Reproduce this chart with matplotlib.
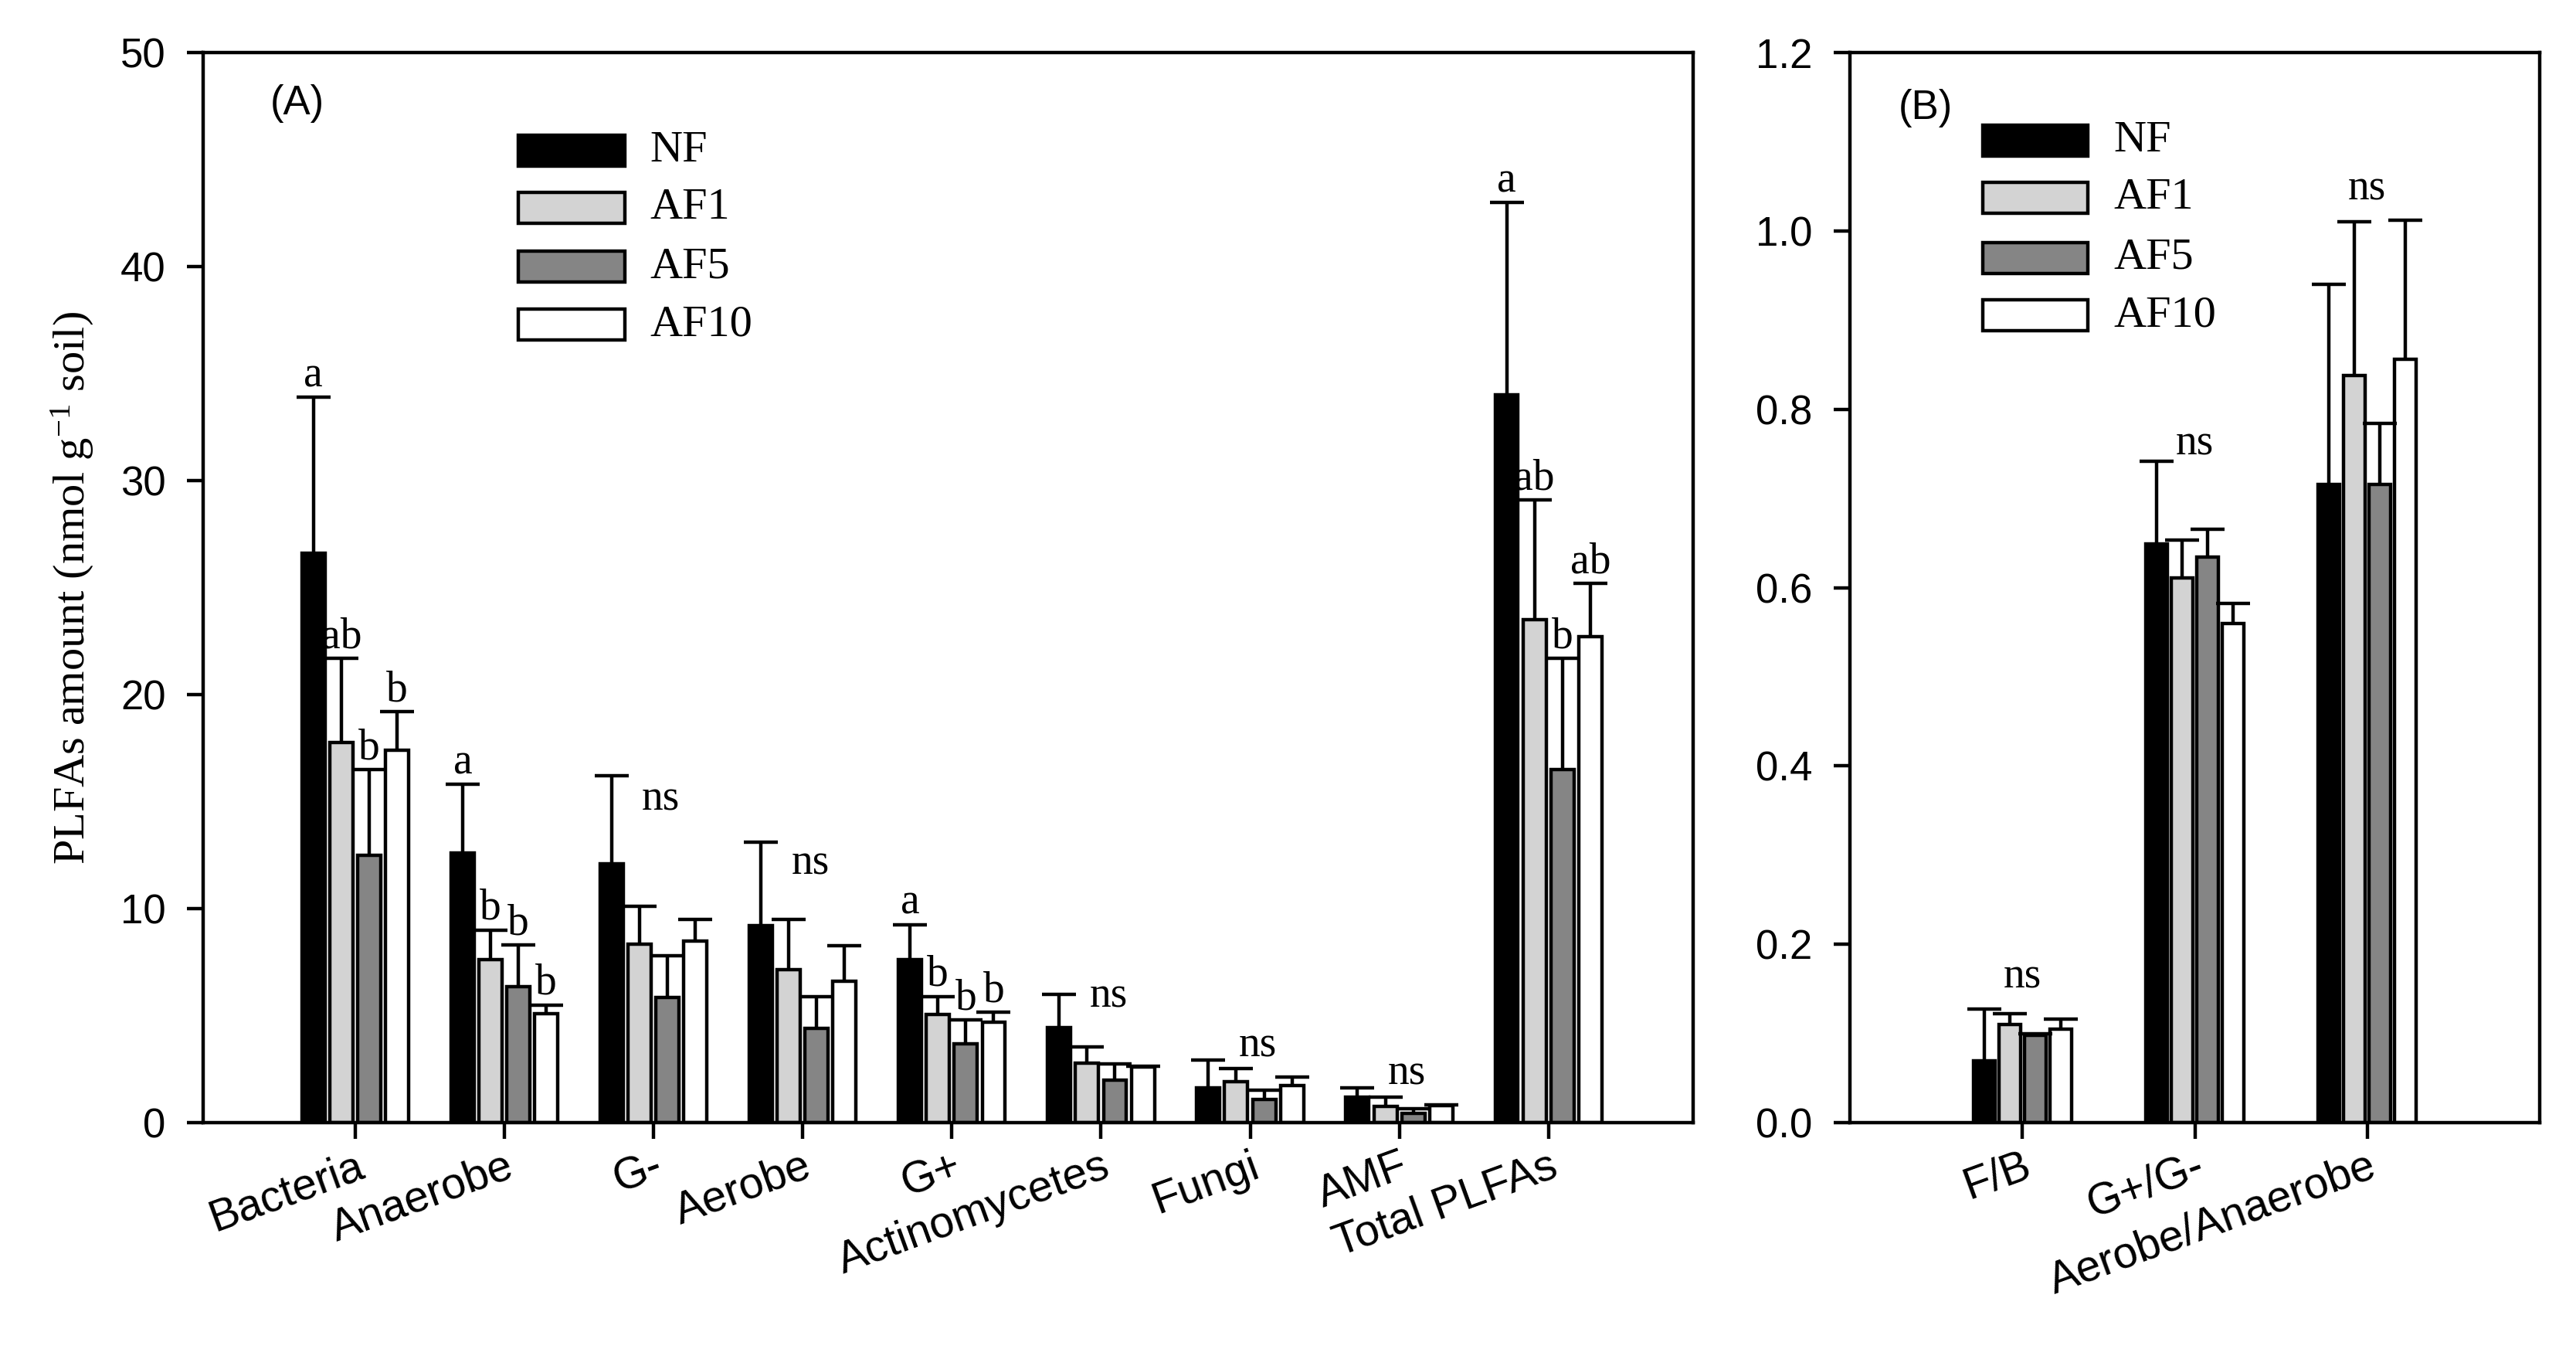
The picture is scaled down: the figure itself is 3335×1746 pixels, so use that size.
import matplotlib
matplotlib.use('Agg')
import matplotlib.pyplot as plt
from matplotlib.patches import Rectangle
from matplotlib.transforms import ScaledTranslation
import numpy as np

plt.rcParams['font.family'] = ['Liberation Sans', 'DejaVu Sans']
plt.rcParams['mathtext.fontset'] = 'custom'
plt.rcParams['mathtext.rm'] = 'Liberation Serif'
plt.rcParams['mathtext.it'] = 'Liberation Serif:italic'

# ---------------- data ----------------
treatments = ['NF', 'AF1', 'AF5', 'AF10']

categories_A = ['Bacteria', 'Anaerobe', 'G-', 'Aerobe', 'G+', 'Actinomycetes',
                'Fungi', 'AMF', 'Total PLFAs']
nf_A = [26.6, 12.6, 12.1, 9.2, 7.6, 4.45, 1.62, 1.19, 34.0]
nf_A_err = [7.3, 3.2, 4.1, 3.9, 1.65, 1.55, 1.31, 0.43, 9.0]
af1_A = [17.75, 7.6, 8.35, 7.15, 5.05, 2.78, 1.9, 0.76, 23.5]
af1_A_err = [3.95, 1.4, 1.75, 2.35, 0.85, 0.76, 0.63, 0.43, 5.6]
af5_A = [12.5, 6.35, 5.85, 4.4, 3.7, 1.99, 1.1, 0.43, 16.5]
af5_A_err = [4.0, 1.95, 1.95, 1.5, 1.1, 0.75, 0.4, 0.23, 5.2]
af10_A = [17.4, 5.1, 8.5, 6.6, 4.7, 2.6, 1.75, 0.79, 22.7]
af10_A_err = [1.8, 0.4, 1.0, 1.65, 0.45, 0.05, 0.39, 0.04, 2.5]

categories_B = ['F/B', 'G+/G-', 'Aerobe/Anaerobe']
nf_B = [0.069, 0.649, 0.716]
nf_B_err = [0.058, 0.093, 0.224]
af1_B = [0.110, 0.611, 0.838]
af1_B_err = [0.012, 0.042, 0.172]
af5_B = [0.098, 0.634, 0.716]
af5_B_err = [0.002, 0.031, 0.068]
af10_B = [0.105, 0.560, 0.856]
af10_B_err = [0.011, 0.022, 0.156]

# significance letters
letters_A = [['a', 'ab', 'b', 'b'],
             ['a', 'b', 'b', 'b'],
             None, None,
             ['a', 'b', 'b', 'b'],
             None, None, None,
             ['a', 'ab', 'b', 'ab']]
ns_A = {2: 14.6, 3: 11.6, 5: 5.4, 6: 3.1, 7: 1.8}
ns_B = {0: 0.151, 1: 0.749, 2: 1.035}

colors = ['#000000', '#d3d3d3', '#858585', '#ffffff']

# ---------------- figure ----------------
fig = plt.figure(figsize=(16.675, 8.73), dpi=200)
axA = fig.add_axes([0.07886, 0.16781, 0.57841, 0.79324])
axB = fig.add_axes([0.71814, 0.16781, 0.26777, 0.79324])

LW = 1.6
SERIF = 'Liberation Serif'


def draw_panel(ax, cats, means, errs, pitch, width, capsize):
    x = np.arange(len(cats))
    offsets = (np.arange(4) - 1.5) * pitch
    tops = []
    for k in range(4):
        xs = x + offsets[k]
        m = np.array(means[k])
        e = np.array(errs[k])
        ax.bar(xs, m, width=width, color=colors[k], edgecolor='black',
               linewidth=LW, zorder=2)
        ax.errorbar(xs, m, yerr=[np.zeros(len(cats)), e], fmt='none',
                    ecolor='black', elinewidth=LW, capsize=0, zorder=3)
        ax.plot(xs, m + e, linestyle='none', marker='_', markersize=capsize,
                markeredgewidth=LW, color='black', zorder=3)
        tops.append((xs, m + e))
    ax.set_xticks(x)
    ax.set_xticklabels(cats, rotation=20, ha='right', va='top',
                       rotation_mode='anchor', fontsize=20.5)
    shift = ScaledTranslation(-5 / 72, 0, fig.dpi_scale_trans)
    for lab in ax.get_xticklabels():
        lab.set_transform(lab.get_transform() + shift)
    ax.tick_params(axis='x', direction='out', length=7.5, width=LW, pad=3,
                   top=False)
    ax.tick_params(axis='y', direction='out', length=7.5, width=LW, pad=10,
                   labelsize=19, right=False)
    for sp in ax.spines.values():
        sp.set_linewidth(LW)
    return x, tops


def legend_box(ax, x0, x1, y_rows, h, text_x):
    for k, name in enumerate(treatments):
        ax.add_patch(Rectangle((x0, y_rows[k] - h / 2), x1 - x0, h,
                               transform=ax.transAxes, facecolor=colors[k],
                               edgecolor='black', linewidth=LW, zorder=5,
                               clip_on=False))
        ax.text(text_x, y_rows[k], name, transform=ax.transAxes,
                fontfamily=SERIF, fontsize=21, ha='left', va='center')


# ---- Panel A ----
xA, topsA = draw_panel(axA, categories_A,
                       [nf_A, af1_A, af5_A, af10_A],
                       [nf_A_err, af1_A_err, af5_A_err, af10_A_err],
                       pitch=0.187, width=0.155, capsize=15.5)
axA.set_xlim(-1.02, 8.97)
axA.set_ylim(0, 50)
axA.set_yticks([0, 10, 20, 30, 40, 50])
axA.set_ylabel('PLFAs amount (nmol g$^{-1}$ soil)', fontfamily=SERIF,
               fontsize=21)
axA.yaxis.set_label_coords(-0.072, 0.5)

for i, labs in enumerate(letters_A):
    if labs is None:
        continue
    for k in range(4):
        xs, ts = topsA[k]
        axA.annotate(labs[k], xy=(xs[i], ts[i]), xytext=(0, 5),
                     textcoords='offset points', ha='center', va='baseline',
                     fontfamily=SERIF, fontsize=20)
for i, yv in ns_A.items():
    axA.text(xA[i] + 0.05, yv, 'ns', ha='center', va='baseline',
             fontfamily=SERIF, fontsize=20)

axA.text(0.045, 0.952, '(A)', transform=axA.transAxes, fontsize=19,
         ha='left', va='center')
legend_box(axA, 0.2115, 0.283, [0.9083, 0.8549, 0.800, 0.7458], 0.0289, 0.300)

# ---- Panel B ----
xB, topsB = draw_panel(axB, categories_B,
                       [nf_B, af1_B, af5_B, af10_B],
                       [nf_B_err, af1_B_err, af5_B_err, af10_B_err],
                       pitch=0.1475, width=0.125, capsize=15.5)
axB.set_xlim(-1, 3)
axB.set_ylim(0, 1.2)
axB.set_yticks([0.0, 0.2, 0.4, 0.6, 0.8, 1.0, 1.2])
axB.set_yticklabels(['%.1f' % v for v in [0.0, 0.2, 0.4, 0.6, 0.8, 1.0, 1.2]])
for i, yv in ns_B.items():
    axB.text(xB[i], yv, 'ns', ha='center', va='baseline',
             fontfamily=SERIF, fontsize=20)
axB.text(0.0705, 0.948, '(B)', transform=axB.transAxes, fontsize=19,
         ha='left', va='center')
legend_box(axB, 0.193, 0.345, [0.9177, 0.8643, 0.808, 0.7545], 0.0289, 0.382)

fig.savefig('out.png', dpi=200)
